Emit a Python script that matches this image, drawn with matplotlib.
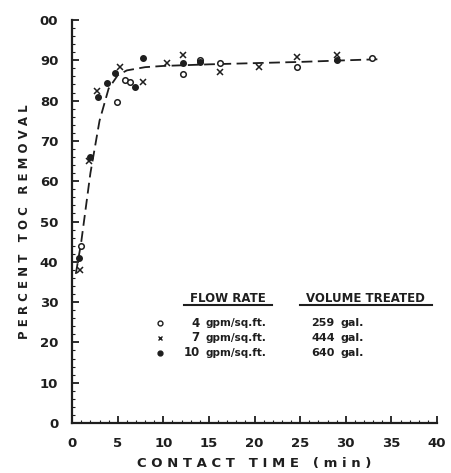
import numpy as np
import matplotlib
matplotlib.use("Agg")
import matplotlib.pyplot as plt

# TOC removal vs contact time for three flow rates
t_4 = [1.0, 4.9, 5.8, 6.3, 12.1, 14.0, 16.2, 24.6, 32.9]
r_4 = [44, 79.7, 85.0, 84.5, 86.5, 90.0, 89.3, 88.3, 90.6]

t_7 = [0.9, 1.8, 2.7, 5.2, 7.8, 10.4, 12.1, 16.2, 20.5, 24.7, 29.0]
r_7 = [38, 65, 82.5, 88.3, 84.5, 89.3, 91.3, 87.1, 88.3, 90.8, 91.3]

t_10 = [0.8, 2.0, 2.8, 3.8, 4.7, 6.9, 7.8, 12.1, 14.0, 29.0]
r_10 = [41, 66, 80.9, 84.4, 86.8, 83.4, 90.6, 89.3, 89.5, 90.1]

# hand-fitted curve through all runs
fit_t = [0.4, 1, 2, 3, 4, 5, 6, 8, 10, 15, 20, 25, 30, 34]
fit_r = [37, 45, 62, 75, 83, 86.3, 87.5, 88.3, 88.6, 89.0, 89.3, 89.6, 90.0, 90.3]

flow_rates = ["4", "7", "10"]
volumes = ["259", "444", "640"]
yticks = [0, 10, 20, 30, 40, 50, 60, 70, 80, 90, 100]
ytick_labels = ["0", "10", "20", "30", "40", "50", "60", "70", "80", "90", "00"]
xticks = [0, 5, 10, 15, 20, 25, 30, 35, 40]

ink = "#1e1e1e"
plt.rcParams["font.family"] = "DejaVu Sans"

fig = plt.figure(figsize=(4.51, 4.73), dpi=100)
ax = fig.add_axes([0.160, 0.1057, 0.809, 0.852])

ax.plot(fit_t, fit_r, color=ink, lw=1.3, dashes=(6, 3))
ax.plot(t_4, r_4, "o", mfc="white", mec=ink, ms=4, mew=1.1)
ax.plot(t_7, r_7, "x", color=ink, ms=4, mew=1.1)
ax.plot(t_10, r_10, "o", color=ink, ms=4)

ax.set_xlim(0, 40)
ax.set_ylim(0, 100)
for s in ["top", "right"]:
    ax.spines[s].set_visible(False)
for s in ["left", "bottom"]:
    ax.spines[s].set_color(ink)
    ax.spines[s].set_linewidth(1.6)

ax.set_xticks(xticks)
ax.set_yticks(yticks)
ax.set_yticklabels(ytick_labels)
ax.set_xticks(np.arange(0, 41, 1), minor=True)
ax.set_yticks(np.arange(0, 101, 2), minor=True)
ax.tick_params(which="major", direction="in", length=5, width=1.3, color=ink,
               labelsize=9.5, labelcolor=ink)
ax.tick_params(which="minor", direction="in", length=2, width=0.8, color=ink)
ax.tick_params(axis="y", pad=10)
ax.tick_params(axis="x", pad=10)
for lab in ax.get_xticklabels() + ax.get_yticklabels():
    lab.set_fontweight("bold")

ax.set_xlabel("C O N T A C T   T I M E   ( m i n )", fontsize=9.5,
              fontweight="bold", color=ink, labelpad=5)
ax.set_ylabel("P E R C E N T   T O C   R E M O V A L", fontsize=8.5,
              fontweight="bold", color=ink, labelpad=6)

# legend block drawn as text
ax.text(17.1, 31, "FLOW RATE", ha="center", va="center", fontsize=8.5,
        fontweight="bold", color=ink)
ax.text(32.1, 31, "VOLUME TREATED", ha="center", va="center", fontsize=8.5,
        fontweight="bold", color=ink)
ax.plot([12.3, 21.9], [29.2, 29.2], color=ink, lw=1.5)
ax.plot([25.0, 39.4], [29.2, 29.2], color=ink, lw=1.5)

row_y = [24.8, 21.1, 17.4]
ax.plot(9.6, row_y[0], "o", mfc="white", mec=ink, ms=3.5, mew=1.0)
ax.plot(9.6, row_y[1], "x", color=ink, ms=3.5, mew=1.0)
ax.plot(9.6, row_y[2], "o", color=ink, ms=3.5)
for y, fr, vol in zip(row_y, flow_rates, volumes):
    ax.text(14.0, y, fr, ha="right", va="center", fontsize=8.5,
            fontweight="bold", color=ink)
    ax.text(14.6, y, "gpm/sq.ft.", ha="left", va="center", fontsize=7.5,
            fontweight="bold", color=ink)
    ax.text(28.8, y, vol, ha="right", va="center", fontsize=8,
            fontweight="bold", color=ink)
    ax.text(29.4, y, "gal.", ha="left", va="center", fontsize=8,
            fontweight="bold", color=ink)

fig.savefig("out.png", dpi=100)
